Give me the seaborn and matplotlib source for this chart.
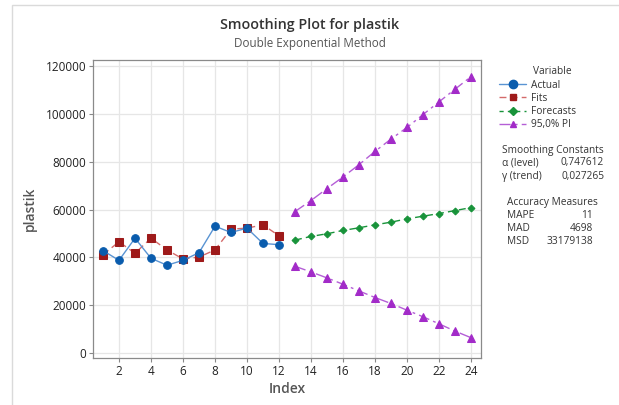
import numpy as np
import pandas as pd
import matplotlib
matplotlib.use("Agg")
import matplotlib.pyplot as plt
from matplotlib.lines import Line2D
from matplotlib.patches import Rectangle
import seaborn as sns

# --- data ---
index_obs = list(range(1, 13))
actual = [42800, 38750, 48000, 39600, 36700, 38750, 41950, 53000, 50400, 52200, 45800, 45300]
fits = [41100, 46500, 41700, 48000, 43100, 39300, 40100, 43100, 51800, 52200, 53600, 49000]

index_fc = list(range(13, 25))
forecasts = [47200, 48750, 49850, 51250, 52350, 53600, 54700, 56100, 57200, 58300, 59550, 60800]
upper_pi = [59150, 63750, 68750, 73600, 78750, 84300, 89450, 94300, 99700, 105000, 110300, 115550]
lower_pi = [36250, 33900, 31400, 28750, 25950, 23200, 20700, 17900, 15150, 12200, 9150, 6400]

x_ticks = [2, 4, 6, 8, 10, 12, 14, 16, 18, 20, 22, 24]
y_ticks = [0, 20000, 40000, 60000, 80000, 100000, 120000]

sns.set_style("white")
plt.rcParams['font.family'] = ['Open Sans', 'DejaVu Sans']

fig = plt.figure(figsize=(6.19, 4.05), dpi=100)
ax = fig.add_axes([93 / 619, 47 / 405, 388 / 619, 298 / 405])

obs = pd.DataFrame({'Index': index_obs, 'Actual': actual, 'Fits': fits})
fc = pd.DataFrame({'Index': index_fc, 'Forecasts': forecasts,
                   'Upper': upper_pi, 'Lower': lower_pi})

blue, red, green, purple = '#0A5CAD', '#9E1A1A', '#18933A', '#A22BC8'
txt = '#333333'

sns.lineplot(data=obs, x='Index', y='Actual', ax=ax, color='#5A94D3', lw=1.0,
             marker='o', markersize=5.5, markerfacecolor=blue, markeredgecolor=blue, zorder=4)
sns.lineplot(data=obs, x='Index', y='Fits', ax=ax, color='#D46A6A', lw=1.0,
             dashes=(5, 3), marker='s', markersize=5.5, markerfacecolor=red,
             markeredgecolor=red, zorder=3)
sns.lineplot(data=fc, x='Index', y='Forecasts', ax=ax, color=green, lw=1.0,
             dashes=(5, 3), marker='D', markersize=3.5, markerfacecolor=green,
             markeredgecolor=green, zorder=3)
for col in ['Upper', 'Lower']:
    sns.lineplot(data=fc, x='Index', y=col, ax=ax, color='#B45ED6', lw=1.0,
                 dashes=(8, 3, 2, 3), marker='^', markersize=5.5, markerfacecolor=purple,
                 markeredgecolor=purple, zorder=3)

ax.set_xlim(0.375, 24.625)
ax.set_ylim(-2090, 122510)
ax.set_xticks(x_ticks)
ax.set_yticks(y_ticks)
ax.set_xticklabels([str(t) for t in x_ticks], fontsize=8.5, color='#222222')
ax.set_yticklabels([str(t) for t in y_ticks], fontsize=8.5, color='#222222')
ax.tick_params(axis='both', direction='out', length=3, width=0.8, color='#888888',
               bottom=True, left=True, pad=2)
ax.grid(True, color='#E6E6E6', lw=0.9)
ax.set_axisbelow(True)
for sp in ax.spines.values():
    sp.set_color('#8A8A8A')
    sp.set_linewidth(0.9)

ax.set_xlabel('Index', fontsize=10, fontweight='semibold', color='#555555', labelpad=3)
ax.set_ylabel('plastik', fontsize=10, fontweight='semibold', color='#555555', labelpad=6)

fig.text(0.5, 0.938, 'Smoothing Plot for plastik', ha='center', va='center',
         fontsize=10.3, fontweight='semibold', color=txt)
fig.text(0.5, 0.893, 'Double Exponential Method', ha='center', va='center',
         fontsize=8.4, color='#555555')

# frame of the exported graph
fig.add_artist(Rectangle((12 / 619, -0.05), 1.2, 1.05 - 5 / 405, transform=fig.transFigure,
                         fill=False, edgecolor='#DADADA', lw=1.0))

# legend
handles = [
    Line2D([], [], color='#5A94D3', lw=1.0, marker='o', markersize=6,
           markerfacecolor=blue, markeredgecolor=blue),
    Line2D([], [], color='#D46A6A', lw=1.0, ls=(0, (5, 3)), marker='s', markersize=5,
           markerfacecolor=red, markeredgecolor=red),
    Line2D([], [], color=green, lw=1.0, ls=(0, (3, 3)), marker='D', markersize=4,
           markerfacecolor=green, markeredgecolor=green),
    Line2D([], [], color='#B45ED6', lw=1.0, ls=(0, (8, 3, 2, 3)), marker='^', markersize=5,
           markerfacecolor=purple, markeredgecolor=purple),
]
leg = fig.legend(handles, ['Actual', 'Fits', 'Forecasts', '95,0% PI'],
                 loc='upper left', bbox_to_anchor=(499 / 619, 1 - 80 / 405), frameon=False,
                 fontsize=7.3, handlelength=2.7, handletextpad=0.5,
                 labelspacing=0.2, borderaxespad=0, borderpad=0)
for t in leg.get_texts():
    t.set_color(txt)


def fy(py):
    return 1 - py / 405


fig.text(533 / 619, fy(72), 'Variable', fontsize=7.3, color=txt, va='center')

# smoothing constants / accuracy measures
tx0, tx1 = 502 / 619, 604 / 619
fig.text(tx0, fy(150), 'Smoothing Constants', fontsize=7.3, color=txt, va='center')
fig.text(tx0, fy(163), 'α (level)', fontsize=7.3, color=txt, va='center')
fig.text(tx1, fy(163), '0,747612', fontsize=7.3, color=txt, va='center', ha='right')
fig.text(tx0, fy(176), 'γ (trend)', fontsize=7.3, color=txt, va='center')
fig.text(tx1, fy(176), '0,027265', fontsize=7.3, color=txt, va='center', ha='right')

mx0, mx1 = 507 / 619, 593 / 619
fig.text(mx0, fy(202), 'Accuracy Measures', fontsize=7.3, color=txt, va='center')
for py, name, val in [(215, 'MAPE', '11'), (228, 'MAD', '4698'), (241, 'MSD', '33179138')]:
    fig.text(mx0, fy(py), name, fontsize=7.3, color=txt, va='center')
    fig.text(mx1, fy(py), val, fontsize=7.3, color=txt, va='center', ha='right')

fig.savefig('out.png', dpi=100)
